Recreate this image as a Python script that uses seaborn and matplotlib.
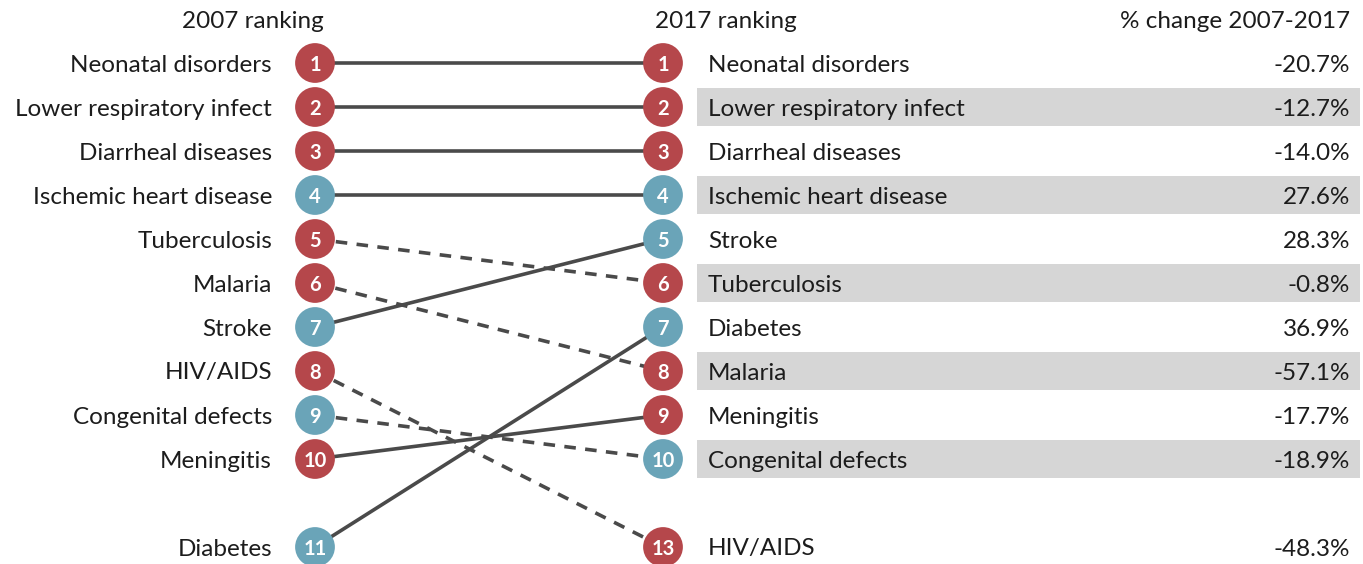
import numpy as np
import pandas as pd
import matplotlib
matplotlib.use("Agg")
from matplotlib import pyplot as plt
import seaborn as sns

# causes, ranks and % change
causes = ["Neonatal disorders", "Lower respiratory infect", "Diarrheal diseases",
          "Ischemic heart disease", "Tuberculosis", "Malaria", "Stroke", "HIV/AIDS",
          "Congenital defects", "Meningitis", "Diabetes"]
rank_2007 = [1, 2, 3, 4, 5, 6, 7, 8, 9, 10, 11]
rank_2017 = [1, 2, 3, 4, 6, 8, 5, 13, 10, 9, 7]
pct_change = ["-20.7%", "-12.7%", "-14.0%", "27.6%", "-0.8%", "-57.1%",
              "28.3%", "-48.3%", "-18.9%", "-17.7%", "36.9%"]
communicable = [True, True, True, False, True, True, False, True, False, True, False]

df = pd.DataFrame({"cause": causes, "r07": rank_2007, "r17": rank_2017,
                   "pct": pct_change, "comm": communicable})
# rows beyond top 10 go into a separate row after a gap
df["y07"] = np.where(df["r07"] > 10, 12, df["r07"])
df["y17"] = np.where(df["r17"] > 10, 12, df["r17"])
df["group"] = np.where(df["comm"], "comm", "ncd")

RED = "#b5474b"
BLUE = "#6aa4b8"
LINE = "#4a4a4a"
palette = {"comm": RED, "ncd": BLUE}

sns.set_style("white")
plt.rcParams["font.family"] = ["Lato", "DejaVu Sans"]

fig = plt.figure(figsize=(13.63, 5.64), dpi=100)
ax = fig.add_axes([0, 0, 1, 1])

X07, X17 = 315, 663

# grey bands on even 2017 rows
for r in range(2, 11, 2):
    ax.axhspan(r - 0.43, r + 0.43, xmin=697 / 1363, xmax=1360 / 1363,
               color="#d6d6d6", lw=0, zorder=0)

# connecting lines: solid if rank held or improved, dashed if it fell
for _, row in df.iterrows():
    ls = "-" if row["r17"] <= row["r07"] else (0, (3.2, 2.6))
    ax.plot([X07, X17], [row["y07"], row["y17"]], color=LINE, lw=2.6,
            ls=ls, zorder=1, solid_capstyle="butt")

# circles
left = df.assign(x=X07, y=df["y07"])
right = df.assign(x=X17, y=df["y17"])
pts = pd.concat([left, right])
sns.scatterplot(data=pts, x="x", y="y", hue="group", palette=palette, s=820,
                edgecolor="none", legend=False, ax=ax, zorder=3)
ax.set_xlim(0, 1363)
# row 1 at pixel 63, 44 px per row
ax.set_ylim(1 + (564 - 63) / 44, 1 - 63 / 44)
ax.axis("off")

fs = 17.5
tc = "#1c1c1c"
for _, row in df.iterrows():
    ax.text(X07, row["y07"], str(row["r07"]), color="white", fontsize=14.5,
            fontweight="bold", ha="center", va="center_baseline", zorder=4)
    ax.text(X17, row["y17"], str(row["r17"]), color="white", fontsize=14.5,
            fontweight="bold", ha="center", va="center_baseline", zorder=4)
    ax.text(272, row["y07"], row["cause"], fontsize=fs, ha="right",
            va="center_baseline", color=tc)
    ax.text(708, row["y17"], row["cause"], fontsize=fs, ha="left",
            va="center_baseline", color=tc)
    ax.text(1350, row["y17"], row["pct"], fontsize=fs, ha="right",
            va="center_baseline", color=tc)

hy = 0
ax.text(324, hy, "2007 ranking", fontsize=fs, ha="right", va="center_baseline", color=tc)
ax.text(655, hy, "2017 ranking", fontsize=fs, ha="left", va="center_baseline", color=tc)
ax.text(1350, hy, "% change 2007-2017", fontsize=fs, ha="right", va="center_baseline", color=tc)

fig.savefig("out.png", dpi=100, facecolor="white")
